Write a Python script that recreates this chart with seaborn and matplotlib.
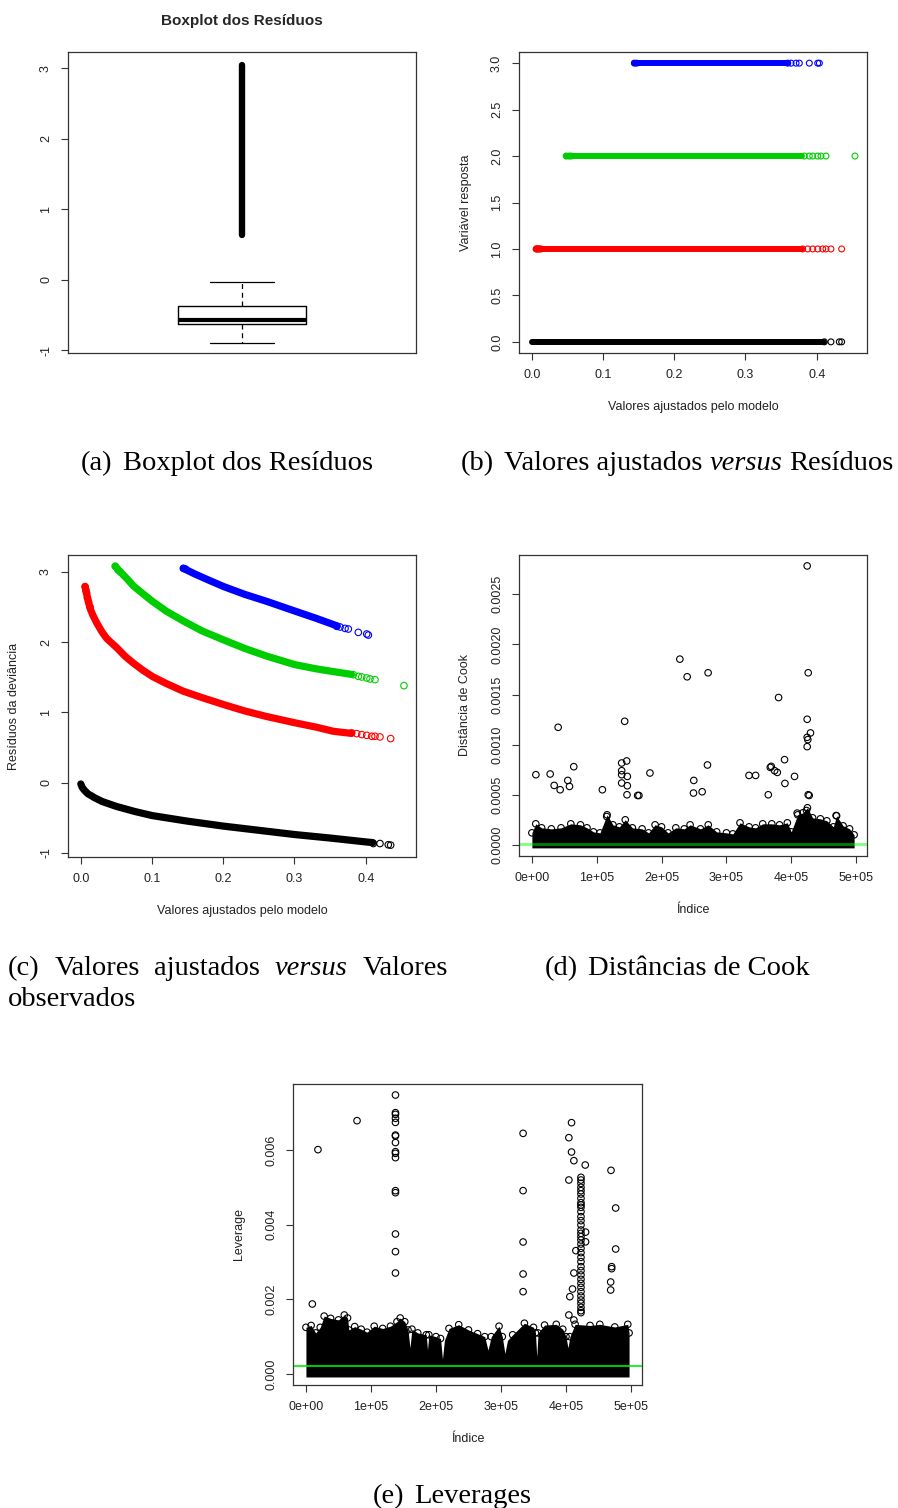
import matplotlib
matplotlib.use("Agg")
import matplotlib.pyplot as plt
from matplotlib.transforms import IdentityTransform
import seaborn as sns

sns.set_style("white")
plt.rcParams["font.family"] = ["Liberation Sans", "DejaVu Sans"]

# (a) boxplot dos residuos
box_q1, box_med, box_q3 = -0.63, -0.57, -0.38
whisk_lo, whisk_hi = -0.90, -0.03
outlier_lo, outlier_hi = 0.64, 3.05

# (b) e (c): quatro niveis da variavel resposta
levels = [0, 1, 2, 3]
level_colors = ["black", "red", "#00CD00", "blue"]

# parte densa das curvas (valor ajustado, residuo da deviancia)
fit_x = [
    [0.0, 0.002, 0.005, 0.01, 0.02, 0.03, 0.05, 0.075, 0.1, 0.15, 0.2, 0.25, 0.3, 0.35, 0.4, 0.41],
    [0.006, 0.008, 0.0093, 0.011, 0.013, 0.017, 0.0225, 0.03, 0.0365, 0.0505, 0.062, 0.0738,
     0.087, 0.1005, 0.12, 0.144, 0.17, 0.2007, 0.23, 0.261, 0.301, 0.33, 0.3545, 0.38],
    [0.0483, 0.0553, 0.065, 0.0738, 0.087, 0.1005, 0.12, 0.144, 0.17, 0.2007, 0.23, 0.261,
     0.30, 0.33, 0.3545, 0.38],
    [0.144, 0.16, 0.18, 0.2007, 0.23, 0.261, 0.301, 0.33, 0.3545, 0.36],
]
dev_y = [
    [-0.02, -0.07, -0.11, -0.16, -0.22, -0.27, -0.34, -0.41, -0.47, -0.55, -0.62, -0.68,
     -0.74, -0.79, -0.845, -0.855],
    [2.79, 2.70, 2.63, 2.56, 2.48, 2.38, 2.27, 2.14, 2.05, 1.92, 1.80, 1.70, 1.60, 1.51,
     1.41, 1.30, 1.21, 1.11, 1.02, 0.94, 0.85, 0.79, 0.73, 0.70],
    [3.08, 3.00, 2.90, 2.80, 2.69, 2.58, 2.44, 2.30, 2.16, 2.03, 1.91, 1.80, 1.68, 1.62,
     1.58, 1.54],
    [3.05, 2.97, 2.88, 2.79, 2.68, 2.58, 2.44, 2.34, 2.25, 2.23],
]
# pontos isolados (inicio e cauda de cada curva)
sparse_x = [
    [0.4107, 0.42, 0.4317, 0.435],
    [0.006, 0.007, 0.008, 0.0093, 0.011, 0.013,
     0.3803, 0.3873, 0.3944, 0.4014, 0.4084, 0.413, 0.42, 0.435],
    [0.0483, 0.052, 0.0553, 0.3826, 0.3896, 0.3944, 0.4014, 0.406, 0.413, 0.4537],
    [0.144, 0.147, 0.3593, 0.364, 0.371, 0.3756, 0.3896, 0.4014, 0.4037],
]
sparse_y = [
    [-0.868, -0.868, -0.886, -0.891],
    [2.79, 2.74, 2.70, 2.63, 2.57, 2.50,
     0.707, 0.697, 0.683, 0.673, 0.659, 0.659, 0.65, 0.626],
    [3.08, 3.03, 3.00, 1.536, 1.512, 1.503, 1.489, 1.475, 1.465, 1.38],
    [3.05, 3.04, 2.224, 2.215, 2.195, 2.186, 2.138, 2.115, 2.10],
]

# (d) distancias de Cook
cook_env_idx = [0, 6000, 15000, 30000, 45000, 60000, 75000, 85000, 95000, 105000, 116000,
                125000, 135000, 144000, 155000, 170000, 180000, 190000, 200000, 210000,
                222000, 235000, 244000, 260000, 272000, 285000, 300000, 310000, 321000,
                335000, 345000, 356000, 370000, 382000, 394000, 400000, 410000, 418000,
                425000, 433000, 445000, 455000, 465000, 470000, 480000, 490000, 497000]
cook_env_val = [0.00012, 0.00021, 0.00017, 0.00016, 0.00017, 0.00021, 0.00020, 0.00017,
                0.00013, 0.00012, 0.00030, 0.00020, 0.00018, 0.00025, 0.00017, 0.00016,
                0.00012, 0.00020, 0.00018, 0.00012, 0.00017, 0.00016, 0.00020, 0.00016,
                0.00020, 0.00013, 0.00012, 0.00011, 0.00022, 0.00018, 0.00017, 0.00021,
                0.00021, 0.00020, 0.00022, 0.00013, 0.00030, 0.00032, 0.00037, 0.00027,
                0.00026, 0.00024, 0.00018, 0.00029, 0.00019, 0.00016, 0.00010]
cook_out_idx = [6150, 28200, 34400, 43600, 40500, 55400, 58000, 64600, 108700, 115400,
                138500, 138500, 138500, 138500, 143100, 146200, 147200, 147200, 146700,
                163100, 165100, 182100, 228200, 239500, 249700, 249200, 262600, 271800,
                270800, 334900, 345100, 364600, 367700, 369200, 374400, 378500, 380500,
                389700, 390300, 405100, 424600, 426200, 424600, 424600, 425600, 424600,
                429700, 426200, 427700, 469200, 409200, 423600]
cook_out_val = [0.00070, 0.000707, 0.000593, 0.00055, 0.001173, 0.000643, 0.000583, 0.00078,
                0.00055, 0.000283, 0.000817, 0.00074, 0.00070, 0.000617, 0.001233, 0.000837,
                0.000683, 0.00059, 0.00050, 0.000493, 0.000493, 0.000717, 0.001853, 0.001677,
                0.000643, 0.000517, 0.00053, 0.001717, 0.000797, 0.000693, 0.000693, 0.00050,
                0.000773, 0.000783, 0.00074, 0.000723, 0.00147, 0.00085, 0.000613, 0.000683,
                0.002783, 0.001717, 0.001253, 0.001073, 0.00105, 0.00098, 0.001117, 0.00050,
                0.000493, 0.000293, 0.000317, 0.000343]
cook_ref = 0.000008

# (e) leverages
lev_env_idx = [0, 8000, 15000, 22000, 28000, 38000, 50000, 59000, 64000, 66000, 75000,
               85000, 94000, 105000, 118000, 130000, 140000, 145000, 152000, 157000, 160000,
               163000, 172000, 185000, 187000, 189000, 200000, 207000, 210000, 213000,
               220000, 235000, 250000, 264000, 275000, 280000, 285000, 297000, 302000,
               306000, 310000, 318000, 336000, 350000, 353000, 355000, 357000, 367000,
               385000, 395000, 400000, 403000, 406000, 414000, 437000, 452000, 475000,
               495000, 497000]
lev_env_val = [0.00125, 0.00130, 0.00110, 0.00125, 0.00155, 0.00149, 0.00145, 0.00158,
               0.00150, 0.00118, 0.00127, 0.00120, 0.00112, 0.00128, 0.00122, 0.00128,
               0.00140, 0.00150, 0.00140, 0.00118, 0.00070, 0.00120, 0.00110, 0.00105,
               0.00065, 0.00105, 0.00100, 0.00095, 0.00040, 0.00090, 0.00122, 0.00132,
               0.00118, 0.00108, 0.00100, 0.00064, 0.00100, 0.00128, 0.00100, 0.00055,
               0.00090, 0.00105, 0.00136, 0.00125, 0.00110, 0.00046, 0.00110, 0.00131,
               0.00133, 0.00120, 0.00100, 0.00070, 0.00100, 0.00133, 0.00130, 0.00133,
               0.00126, 0.00133, 0.00110]
lev_out_idx = [9800, 18500, 78600] + [137700] * 16 + [334000] * 5 + [
    408500, 404400, 408500, 412100, 429600, 404400, 469200, 476400, 476400, 470200,
    470200, 468700, 468700, 415200, 412100, 410000, 405900, 404400, 412100,
    430100, 430100] + [423000] * 36
lev_out_val = [0.001875, 0.00601, 0.006786,
               0.007473, 0.0070, 0.006955, 0.00685, 0.00674, 0.0064, 0.006375, 0.0062,
               0.005955, 0.00591, 0.005795, 0.004911, 0.004857, 0.00375, 0.003277, 0.002705,
               0.006446, 0.004911, 0.003536, 0.002679, 0.002205,
               0.006732, 0.00633, 0.005946, 0.005714, 0.005598, 0.005196, 0.005455, 0.004446,
               0.003348, 0.002875, 0.002821, 0.002464, 0.00225, 0.003304, 0.002705, 0.002277,
               0.002071, 0.00158, 0.001446, 0.0038, 0.00354,
               0.005268, 0.005196, 0.005107, 0.005, 0.004911, 0.004821, 0.004705, 0.004589,
               0.004527, 0.004464, 0.004348, 0.004214, 0.004107, 0.003991, 0.003857, 0.003768,
               0.003679, 0.003589, 0.003482, 0.003366, 0.00325, 0.003125, 0.003009, 0.002875,
               0.002768, 0.002652, 0.002536, 0.002429, 0.002321, 0.002205, 0.002089, 0.001982,
               0.001893, 0.001786, 0.001696, 0.001643]
lev_ref = 0.000214

index_ticks = [0, 100000, 200000, 300000, 400000, 500000]
index_labels = ["0e+00", "1e+05", "2e+05", "3e+05", "4e+05", "5e+05"]
fit_ticks = [0.0, 0.1, 0.2, 0.3, 0.4]
fit_labels = ["0.0", "0.1", "0.2", "0.3", "0.4"]

W, H = 898, 1508
fig = plt.figure(figsize=(W / 100, H / 100), dpi=100)
SERIF = ["Liberation Serif", "DejaVu Serif"]
CAP_PT = 20.5


def panel(l, t, r, b):
    ax = fig.add_axes([l / W, 1 - b / H, (r - l) / W, (b - t) / H])
    for s in ax.spines.values():
        s.set_visible(True)
        s.set_color("#333333")
        s.set_linewidth(0.9)
    ax.tick_params(direction="out", length=5, width=0.8, color="#333333",
                   labelsize=9, pad=6.5, labelcolor="#222222", bottom=True, left=True)
    return ax, (r - l), (b - t)


def labels(ax, w, h, xl, yl):
    if xl:
        ax.set_xlabel(xl, fontsize=9, color="#222222")
        ax.xaxis.set_label_coords(0.5, -54 / h)
        ax.xaxis.label.set_va("center")
    if yl:
        ax.set_ylabel(yl, fontsize=9, color="#222222")
        ax.yaxis.set_label_coords(-53.5 / w, 0.5)
        ax.yaxis.label.set_va("center")


def caption(parts, baseline, center=None, left=None, right=None, gap=10):
    r = fig.canvas.get_renderer()
    items = []
    for s, st in parts:
        t = fig.text(0, 0, s, transform=IdentityTransform(), fontsize=CAP_PT,
                     family=SERIF, style=st, va="baseline", ha="left", color="black")
        items.append((t, t.get_window_extent(r).width))
    total = sum(w for _, w in items)
    space = 0.25 * CAP_PT * 100 / 72
    if left is not None and right is not None and len(items) > 1:
        gaps = [(right - left - total) / (len(items) - 1)] * (len(items) - 1)
        x = left
    else:
        gaps = [gap] + [space] * (len(items) - 2)
        full = total + sum(gaps)
        x = center - full / 2 if center is not None else left
    for i, (t, w) in enumerate(items):
        t.set_position((x, H - baseline))
        if i < len(gaps):
            x += w + gaps[i]


def open_circles(ax, xs, ys, color="black", s=22):
    sns.scatterplot(x=xs, y=ys, ax=ax, s=s, facecolor="none", edgecolor=color,
                    linewidth=0.8, legend=False, zorder=3)


# ---------------- (a)
ax, w, h = panel(68, 52, 416, 353)
ax.bxp([dict(med=box_med, q1=box_q1, q3=box_q3, whislo=whisk_lo, whishi=whisk_hi, fliers=[])],
       positions=[1], widths=0.4, capwidths=[0.2], showfliers=False,
       boxprops=dict(color="black", lw=1), medianprops=dict(color="black", lw=3),
       whiskerprops=dict(color="black", lw=0.9, ls=(0, (4, 3))),
       capprops=dict(color="black", lw=0.9))
ax.plot([1, 1], [outlier_lo, outlier_hi], color="black", lw=4.6, solid_capstyle="round")
ax.set_xlim(0.46, 1.54)
ax.set_ylim(-1.04, 3.23)
ax.set_xticks([])
ax.set_yticks([-1, 0, 1, 2, 3], ["-1", "0", "1", "2", "3"], rotation=90, va="center")
fig.text(242 / W, 1 - 21 / H, "Boxplot dos Resíduos", fontsize=11, fontweight="bold",
         ha="center", va="center")

# ---------------- (b)
ax, w, h = panel(519, 52, 867, 353)
for g, lev in enumerate(levels):
    c = level_colors[g]
    sns.lineplot(x=fit_x[g], y=[lev] * len(fit_x[g]), color=c, lw=4.3, ax=ax,
                 estimator=None, sort=False, legend=False, solid_capstyle="round")
    open_circles(ax, sparse_x[g], [lev] * len(sparse_x[g]), color=c, s=18)
ax.set_xlim(-0.018, 0.4706)
ax.set_ylim(-0.12, 3.12)
ax.set_xticks(fit_ticks, fit_labels)
ax.set_yticks([0, 0.5, 1, 1.5, 2, 2.5, 3],
              ["0.0", "0.5", "1.0", "1.5", "2.0", "2.5", "3.0"], rotation=90, va="center")
labels(ax, w, h, "Valores ajustados pelo modelo", "Variável resposta")

# ---------------- (c)
ax, w, h = panel(68, 555, 416, 857)
for g, lev in enumerate(levels):
    c = level_colors[g]
    sns.lineplot(x=fit_x[g], y=dev_y[g], color=c, lw=5.2, ax=ax,
                 estimator=None, sort=False, legend=False, solid_capstyle="round")
    open_circles(ax, sparse_x[g], sparse_y[g], color=c)
ax.set_xlim(-0.018, 0.4706)
ax.set_ylim(-1.06, 3.24)
ax.set_xticks(fit_ticks, fit_labels)
ax.set_yticks([-1, 0, 1, 2, 3], ["-1", "0", "1", "2", "3"], rotation=90, va="center")
labels(ax, w, h, "Valores ajustados pelo modelo", "Resíduos da deviância")

# ---------------- (d)
ax, w, h = panel(519, 555, 867, 856)
ax.fill_between(cook_env_idx, -0.00003, cook_env_val, color="black", lw=0)
open_circles(ax, cook_env_idx, cook_env_val)
open_circles(ax, cook_out_idx, cook_out_val)
ax.axhline(cook_ref, color=(0, 1, 0, 0.5), lw=2)
ax.set_xlim(-19880, 516880)
ax.set_ylim(-0.000111, 0.002892)
ax.set_xticks(index_ticks, index_labels)
yt = [0, 0.0005, 0.001, 0.0015, 0.002, 0.0025]
ax.set_yticks(yt, [f"{v:.4f}" for v in yt], rotation=90, va="center")
labels(ax, w, h, "Índice", "Distância de Cook")

# ---------------- (e)
ax, w, h = panel(293, 1084, 642, 1385)
ax.fill_between(lev_env_idx, -0.00008, lev_env_val, color="black", lw=0)
peaks = [(i, v) for i, v in zip(lev_env_idx, lev_env_val) if v > 0.0009]
open_circles(ax, [p[0] for p in peaks], [p[1] for p in peaks])
open_circles(ax, lev_out_idx, lev_out_val)
ax.axhline(lev_ref, color="#00EE00", lw=1.2)
ax.set_xlim(-19880, 516880)
ax.set_ylim(-0.000295, 0.007768)
ax.set_xticks(index_ticks, index_labels)
yt = [0, 0.002, 0.004, 0.006]
ax.set_yticks(yt, [f"{v:.3f}" for v in yt], rotation=90, va="center")
labels(ax, w, h, "Índice", "Leverage")

# ---------------- legendas das subfiguras
caption([("(a)", "normal"), ("Boxplot dos Resíduos", "normal")], 470, center=227)
caption([("(b)", "normal"), ("Valores ajustados", "normal"), ("versus", "italic"),
         ("Resíduos", "normal")], 470, center=677)
caption([("(c)", "normal"), ("Valores", "normal"), ("ajustados", "normal"),
         ("versus", "italic"), ("Valores", "normal")], 975, left=8, right=448)
caption([("observados", "normal")], 1006, left=8)
caption([("(d)", "normal"), ("Distâncias de Cook", "normal")], 975, center=677)
caption([("(e)", "normal"), ("Leverages", "normal")], 1503, center=452)

fig.savefig("out.png", dpi=100)
